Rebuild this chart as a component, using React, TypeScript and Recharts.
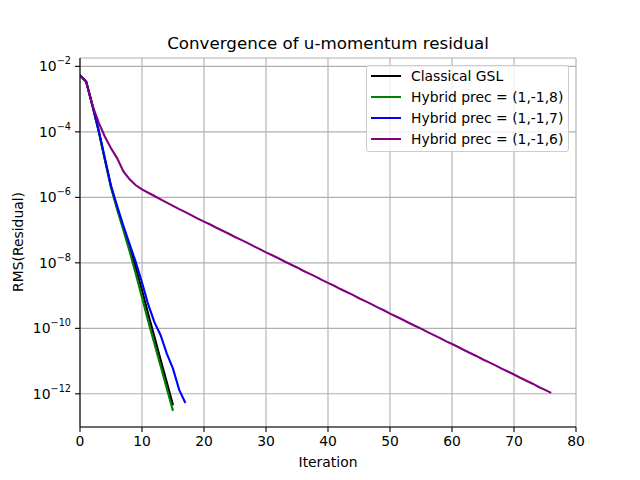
import { CartesianGrid, Line, LineChart, XAxis, YAxis } from "recharts";

// RMS of the u-momentum residual, one value per iteration
const CLASSICAL = [
	5.37e-3, 3.39e-3, 6.46e-4, 1.1e-4, 1.51e-5, 2.14e-6, 4.68e-7, 1.12e-7,
	2.82e-8, 7.08e-9, 1.45e-9, 2.75e-10, 5.5e-11, 1.1e-11, 2.24e-12, 4.47e-13,
];
const HYBRID_8 = [
	5.37e-3, 3.39e-3, 6.46e-4, 1.07e-4, 1.41e-5, 2.0e-6, 4.17e-7, 1.0e-7,
	2.24e-8, 4.57e-9, 8.71e-10, 1.66e-10, 3.39e-11, 7.08e-12, 1.45e-12, 3.02e-13,
];
const HYBRID_7 = [
	5.37e-3, 3.39e-3, 6.46e-4, 1.12e-4, 1.58e-5, 2.24e-6, 5.37e-7, 1.35e-7,
	3.72e-8, 1.05e-8, 2.51e-9, 5.37e-10, 1.55e-10, 6.17e-11, 1.7e-11, 5.89e-12,
	1.32e-12, 5.25e-13,
];
const HYBRID_6 = [
	5.37e-3, 3.39e-3, 6.46e-4, 1.95e-4, 7.24e-5, 3.16e-5, 1.55e-5, 6.17e-6,
	3.55e-6, 2.34e-6, 1.74e-6, 1.38e-6, 1.1e-6, 8.71e-7, 6.92e-7, 5.5e-7,
	4.37e-7, 3.55e-7, 2.82e-7, 2.24e-7, 1.82e-7, 1.48e-7, 1.18e-7, 9.55e-8,
	7.76e-8, 6.17e-8, 5.01e-8, 4.07e-8, 3.24e-8, 2.63e-8, 2.09e-8, 1.7e-8,
	1.38e-8, 1.1e-8, 8.91e-9, 7.24e-9, 5.75e-9, 4.68e-9, 3.8e-9, 3.02e-9,
	2.45e-9, 2.0e-9, 1.58e-9, 1.29e-9, 1.05e-9, 8.32e-10, 6.76e-10, 5.5e-10,
	4.37e-10, 3.55e-10, 2.82e-10, 2.29e-10, 1.86e-10, 1.48e-10, 1.2e-10,
	9.77e-11, 7.76e-11, 6.31e-11, 5.13e-11, 4.07e-11, 3.31e-11, 2.69e-11,
	2.14e-11, 1.74e-11, 1.41e-11, 1.12e-11, 9.12e-12, 7.41e-12, 5.89e-12,
	4.79e-12, 3.89e-12, 3.09e-12, 2.51e-12, 2.04e-12, 1.62e-12, 1.32e-12,
	1.07e-12,
];

const X_TICKS = [0, 10, 20, 30, 40, 50, 60, 70, 80];
const Y_TICKS = [1e-2, 1e-4, 1e-6, 1e-8, 1e-10, 1e-12];

const SERIES = [
	{ key: "classical", name: "Classical GSL", color: "#000000" },
	{ key: "hybrid8", name: "Hybrid prec = (1,-1,8)", color: "#008000" },
	{ key: "hybrid7", name: "Hybrid prec = (1,-1,7)", color: "#0000ff" },
	{ key: "hybrid6", name: "Hybrid prec = (1,-1,6)", color: "#800080" },
];

const rows = HYBRID_6.map((v, i) => ({
	iter: i,
	classical: CLASSICAL[i],
	hybrid8: HYBRID_8[i],
	hybrid7: HYBRID_7[i],
	hybrid6: v,
}));

const FONT = "'DejaVu Sans', sans-serif";

const LogTick = ({ x, y, payload }: any) => {
	const exp = Math.round(Math.log10(payload.value));
	return (
		<text
			x={x}
			y={y}
			dy={5}
			textAnchor="end"
			fontFamily={FONT}
			fontSize={13.9}
			fill="#000"
		>
			10
			<tspan dy={-7} fontSize={9.7}>
				{`\u2212${Math.abs(exp)}`}
			</tspan>
		</text>
	);
};

export default function App() {
	return (
		<div
			style={{
				position: "absolute",
				left: 0,
				top: 0,
				width: 640,
				height: 480,
				background: "#fff",
			}}
		>
			<LineChart
				width={640}
				height={480}
				data={rows}
				margin={{ top: 58, right: 64, left: 8, bottom: 23 }}
			>
				<CartesianGrid stroke="#b0b0b0" strokeWidth={1.1} />
				<XAxis
					dataKey="iter"
					type="number"
					domain={[0, 80]}
					ticks={X_TICKS}
					height={30}
					tickSize={5}
					tickMargin={4}
					stroke="#000"
					axisLine={{ stroke: "#000", strokeWidth: 1.1 }}
					tickLine={{ stroke: "#000", strokeWidth: 1.1 }}
					tick={{ fill: "#000", fontSize: 13.9, fontFamily: FONT }}
					allowDataOverflow
				/>
				<XAxis
					xAxisId="top"
					orientation="top"
					type="number"
					domain={[0, 80]}
					height={0}
					tick={false}
					tickLine={false}
					axisLine={{ stroke: "#000", strokeWidth: 1.1 }}
				/>
				<YAxis
					scale="log"
					type="number"
					domain={[9.7e-14, 1.8e-2]}
					ticks={Y_TICKS}
					width={72}
					tickSize={5}
					tickMargin={4}
					axisLine={{ stroke: "#000", strokeWidth: 1.1 }}
					tickLine={{ stroke: "#000", strokeWidth: 1.1 }}
					tick={<LogTick />}
					allowDataOverflow
				/>
				<YAxis
					yAxisId="right"
					orientation="right"
					type="number"
					domain={[0, 1]}
					width={0}
					tick={false}
					tickLine={false}
					axisLine={{ stroke: "#000", strokeWidth: 1.1 }}
				/>
				{SERIES.map((s) => (
					<Line
						key={s.key}
						dataKey={s.key}
						name={s.name}
						stroke={s.color}
						strokeWidth={2.1}
						dot={false}
						activeDot={false}
						type="linear"
						isAnimationActive={false}
					/>
				))}
				<text
					x={328}
					y={49}
					textAnchor="middle"
					fontFamily={FONT}
					fontSize={16.7}
					fill="#000"
				>
					Convergence of u-momentum residual
				</text>
				<text
					x={328}
					y={467}
					textAnchor="middle"
					fontFamily={FONT}
					fontSize={13.9}
					fill="#000"
				>
					Iteration
				</text>
				<text
					x={23}
					y={242}
					textAnchor="middle"
					fontFamily={FONT}
					fontSize={13.9}
					fill="#000"
					transform="rotate(-90, 23, 242)"
				>
					RMS(Residual)
				</text>
			</LineChart>
			<div
				style={{
					position: "absolute",
					left: 366,
					top: 65,
					width: 203,
					height: 87,
					boxSizing: "border-box",
					background: "rgba(255,255,255,0.8)",
					border: "1px solid #cccccc",
					borderRadius: 3,
					fontFamily: FONT,
					fontSize: 13.9,
					padding: "0 0 0 4px",
				}}
			>
				{SERIES.map((s) => (
					<div
						key={s.key}
						style={{
							display: "flex",
							alignItems: "center",
							height: 21.2,
							marginTop: s.key === "classical" ? -1 : 0,
						}}
					>
						<div
							style={{
								width: 30,
								height: 2,
								background: s.color,
								marginRight: 10,
							}}
						/>
						<span>{s.name}</span>
					</div>
				))}
			</div>
		</div>
	);
}
